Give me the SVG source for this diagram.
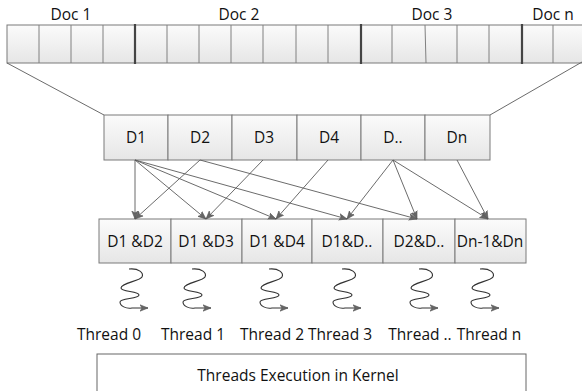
<svg xmlns="http://www.w3.org/2000/svg" width="582" height="391" viewBox="0 0 582 391">
  <defs>
    <linearGradient id="cellFill" x1="0" y1="0" x2="0" y2="1">
      <stop offset="0" stop-color="#fbfbfb"/>
      <stop offset="1" stop-color="#e6e6e6"/>
    </linearGradient>
    <marker id="arrow" markerUnits="userSpaceOnUse" markerWidth="9" markerHeight="8" refX="8" refY="4" orient="auto">
      <path d="M0,0.8 L8,4 L0,7.2 L2,4 Z" fill="#666" stroke="#555" stroke-width="0.6"/>
    </marker>
    <path id="squiggle" d="M-6,269 C4,268 9,273 7,277 C5,281 -14,283 -14,288 C-14,292 4,291 4,295 C4,299 -15,298 -15,302 C-15,306 -9,309 -3,308 L13,308"/>
    <style>
      .cell { fill: url(#cellFill); stroke: #7a7a7a; stroke-width: 1; }
      .sep { stroke: #808080; stroke-width: 1; }
      .docsep { stroke: #444; stroke-width: 2.2; }
      .lbl { font-family: "Open Sans", "Liberation Sans", sans-serif; font-size: 15.5px; fill: #111; text-anchor: middle; }
      .edge { stroke: #5a5a5a; stroke-width: 0.9; fill: none; marker-end: url(#arrow); }
      .guide { stroke: #5a5a5a; stroke-width: 0.9; fill: none; }
      .wave { stroke: #333; stroke-width: 1.1; fill: none; marker-end: url(#arrow); }
    </style>
  </defs>

  <!-- document word strip -->
  <g id="docs">
    <rect class="cell" x="7" y="25" width="580" height="38"/>
    <g>
      <line class="sep" x1="39" y1="25" x2="39" y2="63"/>
      <line class="sep" x1="71" y1="25" x2="71" y2="63"/>
      <line class="sep" x1="103" y1="25" x2="103" y2="63"/>
      <line class="sep" x1="167" y1="25" x2="167" y2="63"/>
      <line class="sep" x1="199" y1="25" x2="199" y2="63"/>
      <line class="sep" x1="231" y1="25" x2="231" y2="63"/>
      <line class="sep" x1="263" y1="25" x2="263" y2="63"/>
      <line class="sep" x1="296" y1="25" x2="296" y2="63"/>
      <line class="sep" x1="328" y1="25" x2="328" y2="63"/>
      <line class="sep" x1="392" y1="25" x2="392" y2="63"/>
      <line class="sep" x1="425" y1="25" x2="426" y2="63"/>
      <line class="sep" x1="457" y1="25" x2="457" y2="63"/>
      <line class="sep" x1="489" y1="25" x2="489" y2="63"/>
      <line class="sep" x1="553" y1="25" x2="553" y2="63"/>
      <line class="docsep" x1="135" y1="24" x2="135" y2="64"/>
      <line class="docsep" x1="361" y1="24" x2="361" y2="64"/>
      <line class="docsep" x1="522" y1="24" x2="522" y2="64"/>
    </g>
    <text class="lbl" x="71" y="20">Doc 1</text>
    <text class="lbl" x="239" y="20">Doc 2</text>
    <text class="lbl" x="432" y="20">Doc 3</text>
    <text class="lbl" x="553" y="20">Doc n</text>
  </g>

  <!-- expansion guides from strip to document row -->
  <g id="guides">
    <line class="guide" x1="7" y1="63" x2="104" y2="115"/>
    <line class="guide" x1="582" y1="62" x2="490" y2="115"/>
  </g>

  <!-- documents -->
  <g id="d1"><rect class="cell" x="104" y="115" width="64" height="45"/><text class="lbl" x="136" y="143">D1</text></g>
  <g id="d2"><rect class="cell" x="168" y="115" width="64" height="45"/><text class="lbl" x="200" y="143">D2</text></g>
  <g id="d3"><rect class="cell" x="232" y="115" width="65" height="45"/><text class="lbl" x="264" y="143">D3</text></g>
  <g id="d4"><rect class="cell" x="297" y="115" width="64" height="45"/><text class="lbl" x="329" y="143">D4</text></g>
  <g id="dx"><rect class="cell" x="361" y="115" width="64" height="45"/><text class="lbl" x="393" y="143">D..</text></g>
  <g id="dn"><rect class="cell" x="425" y="115" width="65" height="45"/><text class="lbl" x="457" y="143">Dn</text></g>

  <!-- document pairs -->
  <g id="p1"><rect class="cell" x="99" y="219" width="72" height="44"/><text class="lbl" x="135" y="247">D1 &amp;D2</text></g>
  <g id="p2"><rect class="cell" x="171" y="219" width="71" height="44"/><text class="lbl" x="206" y="247">D1 &amp;D3</text></g>
  <g id="p3"><rect class="cell" x="242" y="219" width="70" height="44"/><text class="lbl" x="277" y="247">D1 &amp;D4</text></g>
  <g id="p4"><rect class="cell" x="312" y="219" width="71" height="44"/><text class="lbl" x="347" y="247">D1&amp;D..</text></g>
  <g id="p5"><rect class="cell" x="383" y="219" width="72" height="44"/><text class="lbl" x="419" y="247">D2&amp;D..</text></g>
  <g id="p6"><rect class="cell" x="455" y="219" width="71" height="44"/><text class="lbl" x="490" y="247">Dn-1&amp;Dn</text></g>

  <!-- pair connectors -->
  <g id="connectors">
    <line class="edge" x1="135" y1="160" x2="135" y2="219"/>
    <line class="edge" x1="135" y1="160" x2="206" y2="219"/>
    <line class="edge" x1="135" y1="160" x2="276" y2="219"/>
    <line class="edge" x1="135" y1="160" x2="347" y2="219"/>
    <line class="edge" x1="200" y1="160" x2="135" y2="219"/>
    <line class="edge" x1="200" y1="160" x2="417" y2="219"/>
    <line class="edge" x1="263" y1="160" x2="206" y2="219"/>
    <line class="edge" x1="328" y1="160" x2="276" y2="219"/>
    <line class="edge" x1="393" y1="160" x2="347" y2="219"/>
    <line class="edge" x1="393" y1="160" x2="417" y2="219"/>
    <line class="edge" x1="393" y1="160" x2="488" y2="219"/>
    <line class="edge" x1="457" y1="160" x2="488" y2="219"/>
  </g>

  <!-- thread squiggles -->
  <g id="threads">
    <use class="wave" href="#squiggle" transform="translate(135,0)"/>
    <use class="wave" href="#squiggle" transform="translate(198,0)"/>
    <use class="wave" href="#squiggle" transform="translate(275,0)"/>
    <use class="wave" href="#squiggle" transform="translate(348,0)"/>
    <use class="wave" href="#squiggle" transform="translate(425,0)"/>
    <use class="wave" href="#squiggle" transform="translate(486,0)"/>
  </g>

  <!-- thread labels -->
  <g id="thread-labels">
    <text class="lbl" x="109" y="340">Thread 0</text>
    <text class="lbl" x="193" y="340">Thread 1</text>
    <text class="lbl" x="272" y="340">Thread 2</text>
    <text class="lbl" x="340" y="340">Thread 3</text>
    <text class="lbl" x="420" y="340">Thread ..</text>
    <text class="lbl" x="489" y="340">Thread n</text>
  </g>

  <!-- kernel -->
  <g id="kernel">
    <rect x="97" y="354" width="429" height="40" fill="#ffffff" stroke="#666" stroke-width="1"/>
    <text class="lbl" x="298" y="381">Threads Execution in Kernel</text>
  </g>
</svg>
